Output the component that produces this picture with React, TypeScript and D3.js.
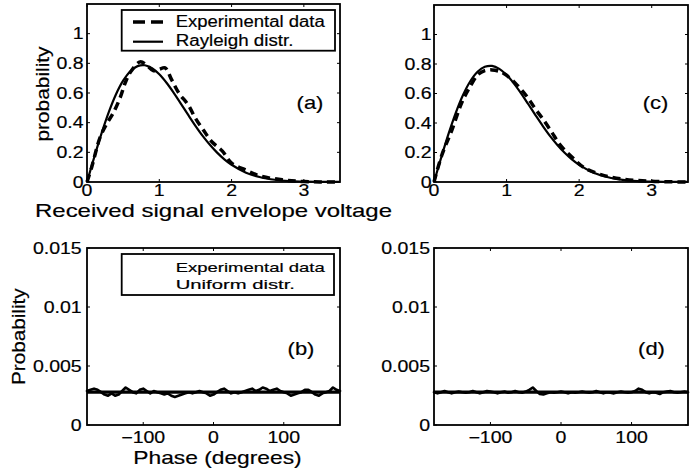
import React from "react";
import * as d3 from "d3";

// ---------- data ----------
const rayX = [0, 0.1, 0.2, 0.3, 0.4, 0.5, 0.6, 0.7, 0.8, 0.9, 1.0, 1.1, 1.2, 1.3, 1.4, 1.5, 1.6, 1.7, 1.8, 1.9, 2.0, 2.2, 2.4, 2.6, 2.8, 3.0, 3.25, 3.5];
const rayY = [0, 0.167, 0.326, 0.469, 0.590, 0.683, 0.747, 0.781, 0.787, 0.767, 0.726, 0.669, 0.601, 0.527, 0.452, 0.379, 0.311, 0.251, 0.198, 0.153, 0.116, 0.063, 0.032, 0.015, 0.006, 0.003, 0.001, 0.0002];

const expAX = [0, 0.065, 0.18, 0.27, 0.365, 0.46, 0.53, 0.6, 0.735, 0.82, 0.92, 1.0, 1.08, 1.17, 1.27, 1.4, 1.5, 1.61, 1.73, 1.87, 2.0, 2.2, 2.4, 2.7, 3.0, 3.5];
const expAY = [0, 0.10, 0.30, 0.39, 0.467, 0.57, 0.67, 0.74, 0.81, 0.79, 0.75, 0.76, 0.77, 0.69, 0.60, 0.52, 0.43, 0.35, 0.27, 0.21, 0.127, 0.08, 0.04, 0.015, 0.003, 0];

const expCX = [0, 0.106, 0.245, 0.38, 0.5, 0.61, 0.7, 0.8, 0.9, 0.98, 1.12, 1.28, 1.39, 1.51, 1.62, 1.74, 1.9, 2.06, 2.3, 2.6, 3.0, 3.5];
const expCY = [0, 0.18, 0.35, 0.535, 0.65, 0.73, 0.755, 0.76, 0.75, 0.73, 0.67, 0.58, 0.50, 0.42, 0.34, 0.25, 0.17, 0.10, 0.05, 0.02, 0.005, 0];

const phaseX = d3.range(-180, 181, 5);
const phaseB = [
  0.00288, 0.00298, 0.00308, 0.00298, 0.00278, 0.00258, 0.00248, 0.00268, 0.00248, 0.00258,
  0.00288, 0.00318, 0.00298, 0.00278, 0.00268, 0.00298, 0.00308, 0.00288, 0.00268, 0.00288,
  0.00278, 0.00268, 0.00258, 0.00268, 0.00248, 0.00238, 0.00248, 0.00258, 0.00268, 0.00278,
  0.00268, 0.00278, 0.00288, 0.00278, 0.00268, 0.00248, 0.00258, 0.00278, 0.00298, 0.00308,
  0.00288, 0.00268, 0.00278, 0.00268, 0.00278, 0.00288, 0.00298, 0.00308, 0.00288, 0.00298,
  0.00318, 0.00308, 0.00288, 0.00298, 0.00308, 0.00288, 0.00278, 0.00268, 0.00248, 0.00258,
  0.00268, 0.00278, 0.00298, 0.00298, 0.00278, 0.00258, 0.00248, 0.00268, 0.00278, 0.00288,
  0.00318, 0.00298, 0.00288,
];
const phaseD = [
  0.00278, 0.00268, 0.00278, 0.00288, 0.00278, 0.00268, 0.00278, 0.00283, 0.00278, 0.00273,
  0.00278, 0.00288, 0.00278, 0.00268, 0.00278, 0.00288, 0.00283, 0.00278, 0.00268, 0.00278,
  0.00283, 0.00273, 0.00278, 0.00288, 0.00278, 0.00273, 0.00283, 0.00298, 0.00318, 0.00288,
  0.00263, 0.00258, 0.00268, 0.00278, 0.00273, 0.00278, 0.00283, 0.00278, 0.00268, 0.00278,
  0.00273, 0.00278, 0.00283, 0.00278, 0.00273, 0.00278, 0.00288, 0.00278, 0.00268, 0.00278,
  0.00273, 0.00268, 0.00278, 0.00283, 0.00278, 0.00273, 0.00278, 0.00288, 0.00308, 0.00298,
  0.00278, 0.00268, 0.00278, 0.00273, 0.00263, 0.00278, 0.00283, 0.00288, 0.00278, 0.00273,
  0.00278, 0.00283, 0.00278,
];
const uniformVal = 1 / 360;

const rayXTicks = [0, 1, 2, 3];
const rayYTicks = [0, 0.2, 0.4, 0.6, 0.8, 1];
const rayYLabels = ["0", "0.2", "0.4", "0.6", "0.8", "1"];
const phXTicks = [-100, 0, 100];
const phXLabels = ["\u2212100", "0", "100"];
const phYTicks = [0, 0.005, 0.01, 0.015];
const phYLabels = ["0", "0.005", "0.01", "0.015"];

const FONT = "'Liberation Sans', Arial, Helvetica, sans-serif";
const SX = 1.22;
const TS = { stroke: "#000", strokeWidth: 0.18 } as any;

function ST({ x, y, anchor = "start", size = 16, children }: any) {
  return (
    <g transform={`translate(${x},${y}) scale(${SX},1)`}>
      <text textAnchor={anchor} fontSize={size} fontFamily={FONT} fill="#000" {...TS}>
        {children}
      </text>
    </g>
  );
}

function Frame({ x, y, xTicks, yTicks, xLabels, yLabels, labelRight, xLabelBase }: any) {
  const [x0, x1] = x.range();
  const [y0, y1] = y.range();
  const tl = 3;
  return (
    <g>
      {xTicks.map((t: number, i: number) => (
        <g key={"x" + i}>
          <line x1={x(t)} x2={x(t)} y1={y0} y2={y0 - tl} stroke="#000" strokeWidth={1} />
          <line x1={x(t)} x2={x(t)} y1={y1} y2={y1 + tl} stroke="#000" strokeWidth={1} />
          <ST x={x(t)} y={xLabelBase} anchor="middle">{xLabels[i]}</ST>
        </g>
      ))}
      {yTicks.map((t: number, i: number) => (
        <g key={"y" + i}>
          <line x1={x0} x2={x0 + tl} y1={y(t)} y2={y(t)} stroke="#000" strokeWidth={1} />
          <line x1={x1} x2={x1 - tl} y1={y(t)} y2={y(t)} stroke="#000" strokeWidth={1} />
          <ST x={labelRight} y={y(t) + 5.7} anchor="end">{yLabels[i]}</ST>
        </g>
      ))}
      <rect x={x0} y={y1} width={x1 - x0} height={y0 - y1} fill="none" stroke="#000" strokeWidth={1.8} />
    </g>
  );
}

export default function App() {
  const xA = d3.scaleLinear().domain([0, 3.5]).range([87, 340]);
  const yA = d3.scaleLinear().domain([0, 1.2]).range([182, 4]);
  const xC = d3.scaleLinear().domain([0, 3.5]).range([434, 688]);
  const yC = d3.scaleLinear().domain([0, 1.2]).range([182, 5]);
  const xB = d3.scaleLinear().domain([-180, 180]).range([87, 340]);
  const yB = d3.scaleLinear().domain([0, 0.015]).range([425, 248]);
  const xD = d3.scaleLinear().domain([-180, 180]).range([434, 688]);
  const yD = yB;

  const mk = (xs: any, ys: any, xv: number[], yv: number[], curve: any) =>
    d3.line<number>().x((_, i) => xs(xv[i])).y((_, i) => ys(yv[i])).curve(curve)(xv) || "";

  const rayA = mk(xA, yA, rayX, rayY, d3.curveCatmullRom);
  const rayC = mk(xC, yC, rayX, rayY, d3.curveCatmullRom);
  const exA = mk(xA, yA, expAX, expAY, d3.curveCatmullRom);
  const exC = mk(xC, yC, expCX, expCY, d3.curveCatmullRom);
  const phB = mk(xB, yB, phaseX, phaseB, d3.curveLinear);
  const phD = mk(xD, yD, phaseX, phaseD, d3.curveLinear);

  return (
    <svg width={696} height={476} style={{ display: "block", position: "absolute", left: 0, top: 0, background: "#fff" }}>
      <rect width={696} height={476} fill="#fff" />
      {/* Panel (a) */}
      <path d={rayA} fill="none" stroke="#000" strokeWidth={2.2} />
      <path d={exA} fill="none" stroke="#000" strokeWidth={3.5} strokeDasharray="8,5" />
      <Frame x={xA} y={yA} xTicks={rayXTicks} yTicks={rayYTicks} xLabels={rayXTicks.map(String)} yLabels={rayYLabels} labelRight={83.5} xLabelBase={196} />
      <ST x={310} y={109} anchor="middle" size={18}>(a)</ST>
      <rect x={121.7} y={10} width={213.3} height={40.7} fill="#fff" stroke="#000" strokeWidth={1.8} />
      <line x1={133} x2={163} y1={22} y2={22} stroke="#000" strokeWidth={3.5} strokeDasharray="12,6" />
      <line x1={133} x2={163} y1={41.7} y2={41.7} stroke="#000" strokeWidth={2.2} />
      <text x={175.7} y={27} fontSize={16} fontFamily={FONT} textLength={149} lengthAdjust="spacingAndGlyphs" {...TS}>Experimental data</text>
      <text x={175.7} y={46.3} fontSize={16} fontFamily={FONT} textLength={117.7} lengthAdjust="spacingAndGlyphs" {...TS}>Rayleigh distr.</text>
      <text x={35} y={216.5} fontSize={18.6} fontFamily={FONT} textLength={357} lengthAdjust="spacingAndGlyphs" {...TS}>Received signal envelope voltage</text>
      <text transform="translate(49,94) rotate(-90)" textAnchor="middle" fontSize={18} fontFamily={FONT} textLength={95} lengthAdjust="spacingAndGlyphs" {...TS}>probability</text>

      {/* Panel (c) */}
      <path d={rayC} fill="none" stroke="#000" strokeWidth={2.2} />
      <path d={exC} fill="none" stroke="#000" strokeWidth={3.5} strokeDasharray="8,5" />
      <Frame x={xC} y={yC} xTicks={rayXTicks} yTicks={rayYTicks} xLabels={rayXTicks.map(String)} yLabels={rayYLabels} labelRight={431.5} xLabelBase={196} />
      <ST x={655.5} y={109} anchor="middle" size={18}>(c)</ST>

      {/* Panel (b) */}
      <path d={phB} fill="none" stroke="#000" strokeWidth={2.6} strokeLinejoin="round" strokeLinecap="round" />
      <line x1={xB(-180)} x2={xB(180)} y1={yB(uniformVal)} y2={yB(uniformVal)} stroke="#000" strokeWidth={3.2} />
      <Frame x={xB} y={yB} xTicks={phXTicks} yTicks={phYTicks} xLabels={phXLabels} yLabels={phYLabels} labelRight={81.7} xLabelBase={443} />
      <ST x={301} y={355} anchor="middle" size={18}>(b)</ST>
      <rect x={121.7} y={254} width={212.3} height={41} fill="#fff" stroke="#000" strokeWidth={1.8} />
      <text x={175.7} y={271.7} fontSize={13} fontFamily={FONT} textLength={149} lengthAdjust="spacingAndGlyphs" {...TS}>Experimental data</text>
      <text x={175.7} y={289.3} fontSize={13} fontFamily={FONT} textLength={119.3} lengthAdjust="spacingAndGlyphs" {...TS}>Uniform distr.</text>
      <text x={133.3} y={464} fontSize={18.6} fontFamily={FONT} textLength={168.3} lengthAdjust="spacingAndGlyphs" {...TS}>Phase (degrees)</text>
      <text transform="translate(25,336.7) rotate(-90)" textAnchor="middle" fontSize={18} fontFamily={FONT} textLength={96.7} lengthAdjust="spacingAndGlyphs" {...TS}>Probability</text>

      {/* Panel (d) */}
      <path d={phD} fill="none" stroke="#000" strokeWidth={2.6} strokeLinejoin="round" strokeLinecap="round" />
      <line x1={xD(-180)} x2={xD(180)} y1={yD(uniformVal)} y2={yD(uniformVal)} stroke="#000" strokeWidth={3.2} />
      <Frame x={xD} y={yD} xTicks={phXTicks} yTicks={phYTicks} xLabels={phXLabels} yLabels={phYLabels} labelRight={430} xLabelBase={443} />
      <ST x={651.5} y={355} anchor="middle" size={18}>(d)</ST>
    </svg>
  );
}
